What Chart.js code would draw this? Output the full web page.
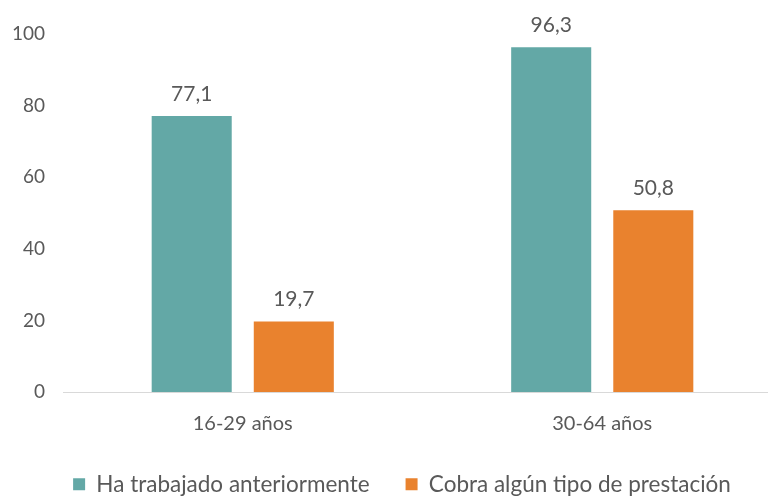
<!DOCTYPE html>
<html>
<head>
<meta charset="utf-8">
<script src="https://cdn.jsdelivr.net/npm/chart.js@4"></script>
<style>
    html, body { margin: 0; padding: 0; background: #fff; overflow: hidden; }
    #wrap { width: 782px; height: 496px; }
</style>
</head>
<body>
<div id="wrap"><canvas id="chart"></canvas></div>
<script>
// datos
const categories = ['16-29 años', '30-64 años'];
const seriesNames = ['Ha trabajado anteriormente', 'Cobra algún tipo de prestación'];
const trabajado = [77.1, 96.3];
const prestacion = [19.7, 50.8];
const yTicks = [0, 20, 40, 60, 80, 100];

const FONT = 'Lato, "Open Sans", sans-serif';
const GREY = '#595959';

// etiquetas encima de cada barra
const valueLabels = {
    id: 'valueLabels',
    afterDatasetsDraw(chart) {
        const ctx = chart.ctx;
        ctx.save();
        ctx.font = '21px ' + FONT;
        ctx.fillStyle = GREY;
        ctx.textAlign = 'center';
        ctx.textBaseline = 'middle';
        chart.data.datasets.forEach((ds, i) => {
            chart.getDatasetMeta(i).data.forEach((bar, j) => {
                ctx.fillText(ds.data[j].toFixed(1).replace('.', ','), bar.x, bar.y - 22);
            });
        });
        ctx.restore();
    }
};

// la leyenda del original está algo desplazada a la derecha
const shiftLegend = {
    id: 'shiftLegend',
    beforeDraw(chart) { chart.legend.left = 22; }
};

new Chart(document.getElementById('chart'), {
    type: 'bar',
    data: {
        labels: categories,
        datasets: [{
            label: seriesNames[0],
            data: trabajado,
            backgroundColor: '#63A8A6'
        }, {
            label: seriesNames[1],
            data: prestacion,
            backgroundColor: '#E9822E'
        }]
    },
    options: {
        responsive: true,
        maintainAspectRatio: false,
        animation: false,
        categoryPercentage: 0.568,
        barPercentage: 0.784,
        layout: { padding: { top: 34, left: 0, right: 0, bottom: -9.5 } },
        plugins: {
            tooltip: { enabled: false },
            legend: {
                position: 'bottom',
                labels: {
                    boxWidth: 12,
                    boxHeight: 12,
                    padding: 36,
                    color: GREY,
                    font: { family: FONT, size: 22.5 }
                }
            }
        },
        scales: {
            x: {
                grid: { display: false, drawTicks: false },
                border: { display: true, color: '#D9D9D9', width: 1 },
                ticks: { color: GREY, padding: 20, font: { family: FONT, size: 20 } },
                afterFit: s => { s.height = 45; }
            },
            y: {
                min: 0,
                max: 100,
                afterBuildTicks: s => { s.ticks = yTicks.map(v => ({ value: v })); },
                grid: { display: false, drawTicks: false },
                border: { display: false },
                ticks: { color: GREY, padding: 18, font: { family: FONT, size: 19 } },
                afterFit: s => { s.width = 63; }
            }
        }
    },
    plugins: [valueLabels, shiftLegend]
});
</script>
</body>
</html>
